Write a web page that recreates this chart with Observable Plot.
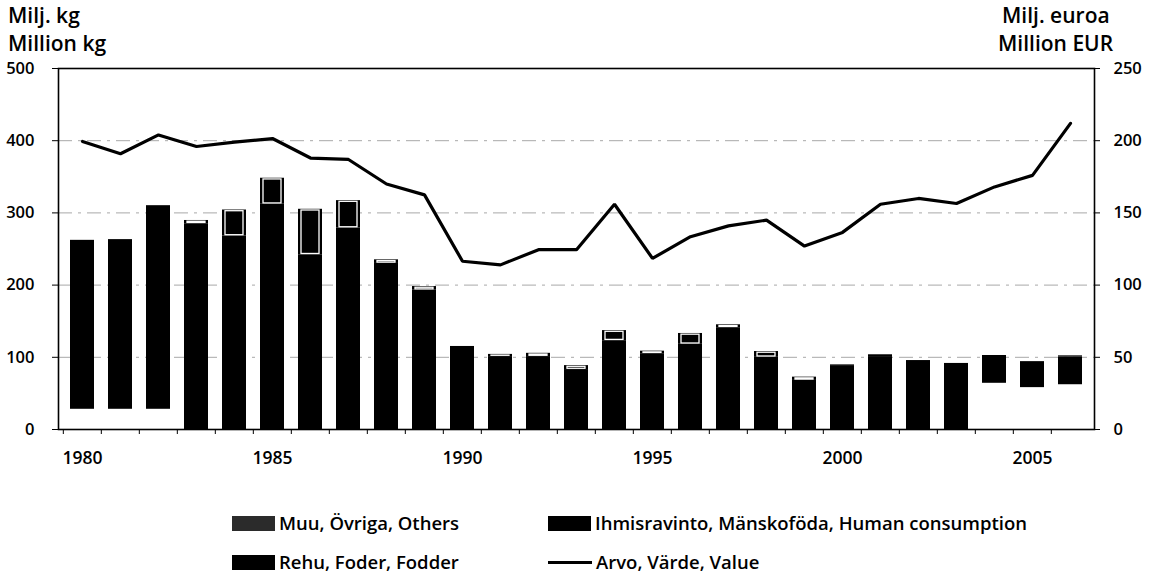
<!DOCTYPE html>
<html>
<head>
<meta charset="utf-8">
<script src="https://cdn.jsdelivr.net/npm/d3@7"></script>
<script src="https://cdn.jsdelivr.net/npm/@observablehq/plot@0.6"></script>
<style>
  body { margin: 0; background: #fff; font-family: "Open Sans", sans-serif; color: #000; }
  #wrap { position: relative; width: 1158px; height: 576px; overflow: hidden; }
  #chart { position: absolute; left: 0; top: 0; }
  .unit { position: absolute; font-size: 21px; font-weight: 600; line-height: 1; white-space: nowrap; }
  .leg { position: absolute; font-size: 18.5px; font-weight: 600; line-height: 1; white-space: nowrap; display: flex; align-items: center; }
  .sw { width: 43px; height: 15px; margin-right: 4px; }
  .ln { width: 44px; height: 3px; background: #000; margin-right: 4px; }
</style>
</head>
<body>
<div id="wrap">
  <div id="chart"></div>
  <div class="unit" style="left:8px;top:5px">Milj. kg</div>
  <div class="unit" style="left:8px;top:33px">Million kg</div>
  <div class="unit" style="left:1002px;top:5px">Milj. euroa</div>
  <div class="unit" style="left:998px;top:33px">Million EUR</div>
  <div id="legend"></div>
</div>
<script>
// ---- data ----
const years = [1980,1981,1982,1983,1984,1985,1986,1987,1988,1989,1990,1991,1992,1993,1994,1995,1996,1997,1998,1999,2000,2001,2002,2003,2004,2005,2006];
// Million kg
const muu   = [28,28,28,0,0,0,0,0,0,0,0,0,0,0,0,0,0,0,0,0,0,0,0,0,64,58,62];
const rehu  = [234,235,282,285,268,312,242,279,230,193,115,101,101,83,123,105,118,141,100,68,88.5,101,95.5,91.5,38.5,36,38.5];
const ihmis = [0,0,0,4.5,36,36,63,38,5,5,0,3,4.5,5.5,14,3.5,15,4,8,4.5,1,2.5,0,0,0,0,1.5];
// Million EUR
const arvo  = [199.5,191,204,196,199,201.5,188,187,170,162.5,116.5,114,124.5,124.5,156,118.5,133.5,141,145,127,136.5,156,160,156.5,168,176,212];
const leftTicks  = [0,100,200,300,400,500];
const rightTicks = [0,50,100,150,200,250];
const labelYears = [1980,1985,1990,1995,2000,2005];
const seriesNames = ["Muu, Övriga, Others", "Rehu, Foder, Fodder", "Ihmisravinto, Mänskoföda, Human consumption"];
const lineName = "Arvo, Värde, Value";

// ---- build tables ----
const rows = years.flatMap((y, i) => [
  {year: y, series: seriesNames[0], value: muu[i]},
  {year: y, series: seriesNames[1], value: rehu[i]},
  {year: y, series: seriesNames[2], value: ihmis[i]}
]);
const valueRows = years.map((y, i) => ({year: y, value: arvo[i]}));
const ratio = 500 / 250; // left axis units per right axis unit

const W = 1158, H = 480, mL = 58, mR = 64, mT = 68, mB = 51;
const halfStep = (W - mL - mR) / years.length / 2;
const stackOpts = {x: "year", y: "value", z: "series", order: seriesNames};

const chart = Plot.plot({
  width: W, height: H,
  marginLeft: mL, marginRight: mR, marginTop: mT, marginBottom: mB,
  style: {fontFamily: "'Open Sans', sans-serif", fontSize: "16px", fontWeight: 600, color: "#000", background: "transparent", overflow: "visible"},
  x: {type: "band", domain: years, paddingInner: 0.375, paddingOuter: 0.1875, axis: null, label: null},
  y: {domain: [0, 500], axis: null, label: null},
  color: {domain: seriesNames, range: ["#fff", "#000", "#000"]},
  marks: [
    Plot.ruleY(leftTicks.filter(t => t > 0 && t < 500), {stroke: "#a8a8a8", strokeWidth: 1, strokeDasharray: "14,6,3,6"}),
    Plot.barY(rows, Plot.stackY({...stackOpts, fill: "series"})),
    Plot.barY(rows, Plot.filter(d => d.series === seriesNames[2] && d.value > 0,
      Plot.stackY({...stackOpts, fill: "none", stroke: "#fff", strokeWidth: 1.3, insetLeft: 3, insetRight: 3, insetTop: 1.2, insetBottom: 0.8}))),
    Plot.frame({stroke: "#000", strokeWidth: 1.6}),
    Plot.line(valueRows, {x: "year", y: d => d.value * ratio, stroke: "#000", strokeWidth: 3.2, strokeLinejoin: "miter"}),
    Plot.axisY({anchor: "left", ticks: leftTicks, tickSize: 6, tickPadding: 18, fontSize: 16.5, label: null}),
    Plot.axisY({anchor: "right", ticks: rightTicks.map(v => v * ratio), tickFormat: d => String(d / ratio), tickSize: 5, tickPadding: 14, fontSize: 16.5, label: null}),
    Plot.axisX({ticks: years, tickSize: 5, tickFormat: () => "", dx: -halfStep, label: null}),
    Plot.axisX({ticks: labelYears, tickSize: 0, tickPadding: 22, fontSize: 17.5, tickFormat: d => String(d), label: null})
  ]
});
document.getElementById("chart").appendChild(chart);

// ---- legend ----
const legend = document.getElementById("legend");
const items = [
  {label: seriesNames[0], left: 232, top: 514, kind: "sw", color: "#2b2b2b"},
  {label: seriesNames[2], left: 548, top: 514, kind: "sw", color: "#000"},
  {label: seriesNames[1], left: 232, top: 553, kind: "sw", color: "#000"},
  {label: lineName,       left: 548, top: 553, kind: "ln", color: "#000"}
];
for (const it of items) {
  const d = document.createElement("div");
  d.className = "leg";
  d.style.left = it.left + "px";
  d.style.top = it.top + "px";
  const s = document.createElement("span");
  s.className = it.kind;
  s.style.background = it.color;
  d.appendChild(s);
  d.appendChild(document.createTextNode(it.label));
  legend.appendChild(d);
}
</script>
</body>
</html>
